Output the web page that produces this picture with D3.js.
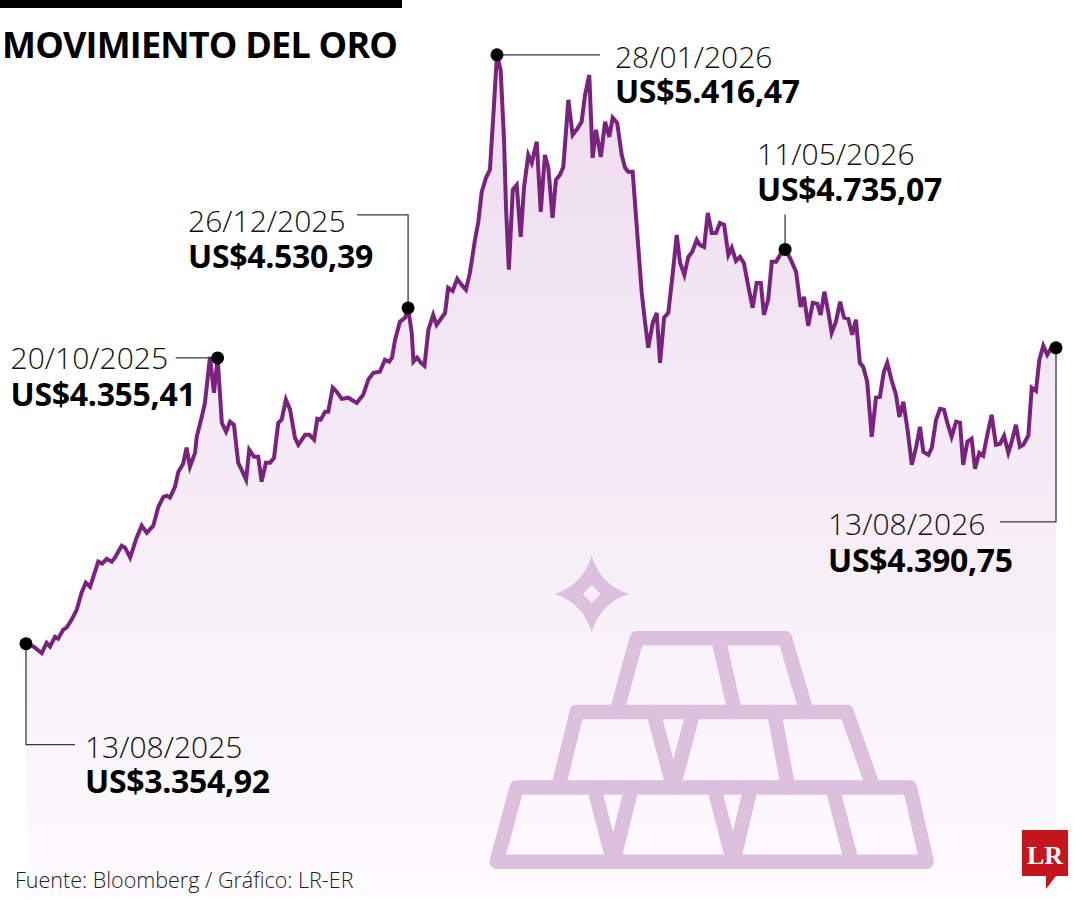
<!DOCTYPE html>
<html>
<head>
<meta charset="utf-8">
<script src="https://cdn.jsdelivr.net/npm/d3@7"></script>
<style>
  html, body { margin: 0; padding: 0; background: #ffffff; }
  svg { display: block; }
</style>
</head>
<body>
<div id="chart"></div>
<script>

// días transcurridos desde el 13/08/2025
const dayOffset = [0, 2.6, 5.6, 7.3, 8.5, 10.3, 11.4, 13.2, 14.4, 16.2, 18.0, 19.7, 21.2, 22.7, 25.6, 27.0, 28.6, 30.4, 31.5, 33.9,
    35.1, 36.9, 39.2, 41.0, 42.8, 45.1, 46.9, 48.7, 49.9, 51.0, 52.8, 54.0, 55.7, 56.9, 58.1, 59.9, 60.5, 62.3, 63.4, 65.2,
    66.6, 67.9, 69.4, 70.9, 72.3, 73.7, 75.2, 76.4, 78.0, 79.1, 80.8, 82.3, 83.5, 85.0, 86.5, 87.9, 89.4, 90.6, 92.1, 93.6,
    95.3, 96.5, 98.9, 100.4, 102.1, 103.2, 104.4, 106.0, 107.1, 108.7, 110.1, 111.9, 114.2, 117.2, 119.5, 121.3, 123.1, 125.4, 127.2, 128.7,
    129.7, 130.8, 132.5, 134.3, 135.4, 136.7, 137.3, 138.6, 140.0, 141.2, 142.6, 144.3, 145.5, 148.5, 149.6, 151.2, 152.8, 154.4, 155.9, 157.3,
    159.1, 160.3, 161.5, 163.0, 164.4, 165.8, 166.9, 168.2, 169.4, 170.1, 171.1, 172.5, 173.9, 175.3, 176.5, 178.0, 179.2, 181.0, 182.4, 183.9,
    185.1, 186.6, 187.8, 189.2, 190.4, 192.2, 193.7, 195.1, 196.9, 198.1, 199.6, 200.8, 202.0, 203.7, 205.2, 206.7, 207.9, 209.5, 211.1, 212.3,
    213.4, 215.0, 216.6, 218.2, 219.4, 220.5, 222.1, 223.5, 224.7, 226.1, 227.6, 229.2, 230.6, 231.8, 233.3, 234.7, 236.1, 237.7, 238.8, 240.3,
    241.6, 243.0, 244.5, 245.9, 247.4, 248.9, 250.1, 251.6, 253.0, 254.4, 256.0, 257.5, 258.9, 260.4, 261.5, 263.0, 264.3, 265.8, 267.2, 269.0,
    270.7, 272.9, 274.5, 275.7, 277.2, 278.8, 280.4, 281.6, 282.9, 284.3, 285.5, 287.0, 288.5, 289.9, 291.4, 292.8, 294.1, 295.5, 296.7, 298.1,
    299.7, 301.2, 302.6, 304.0, 305.2, 306.7, 308.3, 309.5, 310.9, 312.4, 313.9, 315.4, 316.8, 318.0, 319.8, 321.0, 322.5, 323.9, 325.3, 326.5,
    328.0, 329.6, 331.0, 332.1, 333.6, 335.1, 336.3, 337.8, 339.2, 340.8, 342.2, 343.7, 345.2, 346.6, 348.1, 349.3, 350.8, 352.2, 353.4, 355.2,
    356.4, 357.9, 359.1, 360.5, 361.9, 363.5, 365];

// precio del oro en US$ por onza
const goldPrice = [3354.92, 3345, 3322, 3358, 3345, 3379, 3372, 3404, 3411, 3439, 3474, 3533, 3568, 3554, 3642, 3635, 3652, 3642, 3656, 3698,
    3691, 3656, 3726, 3768, 3743, 3768, 3834, 3869, 3873, 3866, 3904, 3957, 3985, 4041, 3974, 4023, 4079, 4149, 4198, 4359,
    4233, 4355.41, 4128, 4097, 4132, 4121, 3988, 3964, 3929, 4034, 4009, 4009, 3922, 3988, 3988, 4006, 4128, 4139, 4209, 4174,
    4076, 4051, 4086, 4086, 4069, 4142, 4139, 4167, 4167, 4251, 4237, 4212, 4216, 4198, 4226, 4279, 4303, 4307, 4349, 4342,
    4356, 4419, 4482, 4496, 4530.39, 4443, 4342, 4356, 4338, 4328, 4454, 4506, 4471, 4513, 4601, 4590, 4632, 4611, 4594, 4653,
    4769, 4832, 4937, 4986, 5014, 5234, 5416.47, 5364, 5119, 4884, 4664, 4944, 4961, 4779, 4954, 5066, 5038, 5112, 4867, 5066,
    5021, 4846, 4979, 4996, 5024, 5259, 5136, 5154, 5182, 5276, 5346, 5056, 5154, 5059, 5182, 5129, 5196, 5178, 5066, 5021,
    5007, 5007, 4793, 4583, 4478, 4391, 4478, 4513, 4338, 4496, 4513, 4653, 4786, 4688, 4646, 4709, 4727, 4769, 4751, 4744,
    4863, 4793, 4793, 4828, 4821, 4716, 4741, 4695, 4709, 4688, 4604, 4531, 4618, 4618, 4506, 4559, 4692, 4692, 4716, 4735.07,
    4706, 4657, 4534, 4569, 4468, 4548, 4545, 4506, 4587, 4517, 4443, 4482, 4552, 4496, 4492, 4436, 4489, 4338, 4324, 4272,
    4079, 4216, 4219, 4307, 4338, 4279, 4226, 4149, 4202, 4104, 3981, 4041, 4114, 4027, 4016, 4041, 4139, 4177, 4174, 4128,
    4079, 4132, 4128, 3981, 4062, 4072, 3967, 4023, 4013, 4093, 4156, 4051, 4055, 4083, 4023, 4062, 4121, 4044, 4051, 4083,
    4251, 4240, 4349, 4398, 4366, 4394, 4390.75];

// puntos destacados
const markDay = [0, 67.9, 135.4, 166.9, 269.0, 365];
const markDate = ["13/08/2025", "20/10/2025", "26/12/2025", "28/01/2026", "11/05/2026", "13/08/2026"];
const markPrice = [3354.92, 4355.41, 4530.39, 5416.47, 4735.07, 4390.75];

const titleText = "MOVIMIENTO DEL ORO";
const sourceText = "Fuente: Bloomberg / Gráfico: LR-ER";

var width = 1080;
var height = 900;

var svg = d3.select("#chart")
    .append("svg")
    .attr("width", width)
    .attr("height", height);

var x = d3.scaleLinear()
    .domain([0, 365])
    .range([26, 1056]);

var y = d3.scaleLinear()
    .domain([3000, 5500])
    .range([745, 31]);

var series = dayOffset.map((d, i) => ({ day: d, price: goldPrice[i] }));

// gradient under the line
var defs = svg.append("defs");
var grad = defs.append("linearGradient")
    .attr("id", "areaGrad")
    .attr("gradientUnits", "userSpaceOnUse")
    .attr("x1", 0).attr("y1", 60)
    .attr("x2", 0).attr("y2", 895);
grad.append("stop").attr("offset", "0%").attr("stop-color", "#eedcf0");
grad.append("stop").attr("offset", "100%").attr("stop-color", "#fdfbfd");

var area = d3.area()
    .x(d => x(d.day))
    .y0(898)
    .y1(d => y(d.price));

svg.append("path")
    .datum(series)
    .attr("d", area)
    .attr("fill", "url(#areaGrad)");

// gold bars icon (decoration)
var iconColor = "#dcc0dd";
var icon = svg.append("g")
    .attr("fill", "none")
    .attr("stroke", iconColor)
    .attr("stroke-width", 14.5)
    .attr("stroke-linejoin", "round")
    .attr("stroke-linecap", "round");

var barLines = [
    // top tier
    [[616.7, 712], [636.7, 638.3], [785, 638.3], [806.7, 712]],
    [[718.3, 638.3], [735, 712]],
    // middle tier
    [[558.3, 787.5], [576.7, 712], [846.7, 712], [873.3, 787.5]],
    [[653.3, 712], [673.3, 787.5], [693.3, 712]],
    [[774, 712], [788.3, 787.5]],
    // bottom tier
    [[496.7, 861.7], [516.7, 787.5], [910, 787.5], [926.7, 861.7], [496.7, 861.7]],
    [[594, 787.5], [613.3, 861.7], [631.7, 787.5]],
    [[714, 787.5], [733.3, 861.7], [750.7, 787.5]],
    [[832.3, 787.5], [851.7, 861.7]]
];
icon.selectAll("path")
    .data(barLines)
    .join("path")
    .attr("d", d => d3.line()(d));

// sparkle
svg.append("path")
    .attr("transform", "translate(591.7,594)")
    .attr("fill", iconColor)
    .attr("fill-rule", "evenodd")
    .attr("d", "M0,-38 Q9,-9 37,0 Q9,9 0,38 Q-9,9 -37,0 Q-9,-9 0,-38 Z M0,-9 L9,0 L0,9 L-9,0 Z");

// price line
var line = d3.line()
    .x(d => x(d.day))
    .y(d => y(d.price));

svg.append("path")
    .datum(series)
    .attr("d", line)
    .attr("fill", "none")
    .attr("stroke", "#7a237e")
    .attr("stroke-width", 4)
    .attr("stroke-linejoin", "miter");

// annotations
var esLocale = d3.formatLocale({
    decimal: ",",
    thousands: ".",
    grouping: [3],
    currency: ["US$", ""]
});
var fmtPrice = esLocale.format("$,.2f");

// leader legs and label offsets relative to each dot
var markLayout = [
    { legs: [[0, 101], [49, 0]], tx: 59, dateDy: 114, priceDy: 149 },
    { legs: [[-42, 0]], tx: -207, dateDy: 11, priceDy: 48 },
    { legs: [[0, -93], [-51, 0]], tx: -220, dateDy: -76, priceDy: -40 },
    { legs: [[103, 0]], tx: 118, dateDy: 13, priceDy: 48 },
    { legs: [[0, -35]], tx: -28, dateDy: -84, priceDy: -48 },
    { legs: [[0, 174], [-56, 0]], tx: -228, dateDy: 187, priceDy: 224 }
];

var marks = markDay.map((d, i) => ({
    day: d, date: markDate[i], price: markPrice[i], layout: markLayout[i]
}));

var markGroup = svg.append("g").attr("class", "marks");

markGroup.selectAll(".leader")
    .data(marks)
    .join("path")
    .attr("class", "leader")
    .attr("fill", "none")
    .attr("stroke", "#3a3a3a")
    .attr("stroke-width", 1.3)
    .attr("d", d => {
        var px = x(d.day), py = y(d.price);
        var p = "M" + px + "," + py;
        d.layout.legs.forEach(l => {
            px += l[0]; py += l[1];
            p += "L" + px + "," + py;
        });
        return p;
    });

markGroup.selectAll(".dot")
    .data(marks)
    .join("circle")
    .attr("class", "dot")
    .attr("cx", d => x(d.day))
    .attr("cy", d => y(d.price))
    .attr("r", 6.5)
    .attr("fill", "#000");

// one text per label, date and price as two lines
var labels = markGroup.selectAll(".mlabel")
    .data(marks)
    .join("text")
    .attr("class", "mlabel")
    .attr("font-family", "'Open Sans', 'Noto Sans', sans-serif");

labels.append("tspan")
    .attr("x", d => x(d.day) + d.layout.tx)
    .attr("y", d => y(d.price) + d.layout.dateDy)
    .attr("font-weight", 300)
    .attr("font-size", 30)
    .attr("fill", "#111")
    .text(d => d.date);

labels.append("tspan")
    .attr("x", d => x(d.day) + d.layout.tx)
    .attr("y", d => y(d.price) + d.layout.priceDy)
    .attr("font-weight", 700)
    .attr("font-size", 32)
    .attr("letter-spacing", -0.3)
    .attr("fill", "#000")
    .text(d => fmtPrice(d.price));

// header
svg.append("rect")
    .attr("x", 0)
    .attr("y", 0)
    .attr("width", 402)
    .attr("height", 8)
    .attr("fill", "#000");

svg.append("text")
    .attr("x", 2)
    .attr("y", 58)
    .attr("font-family", "'Open Sans', 'Noto Sans', sans-serif")
    .attr("font-weight", 700)
    .attr("font-size", 36)
    .attr("letter-spacing", -0.8)
    .attr("fill", "#000")
    .text(titleText);

// source
svg.append("text")
    .attr("x", 15)
    .attr("y", 888)
    .attr("font-family", "'Open Sans', 'Noto Sans', sans-serif")
    .attr("font-weight", 300)
    .attr("font-size", 21.5)
    .attr("fill", "#222")
    .text(sourceText);

// LR logo
var logo = svg.append("g");
logo.append("path")
    .attr("d", "M1022,830 H1068 V876 H1056 L1046,889 L1046,876 H1022 Z")
    .attr("fill", "#c4161c");
logo.append("text")
    .attr("x", 1045)
    .attr("y", 864)
    .attr("text-anchor", "middle")
    .attr("font-family", "'Liberation Serif', 'DejaVu Serif', serif")
    .attr("font-weight", 700)
    .attr("font-size", 26)
    .attr("fill", "#fff")
    .text("LR");

</script>
</body>
</html>
